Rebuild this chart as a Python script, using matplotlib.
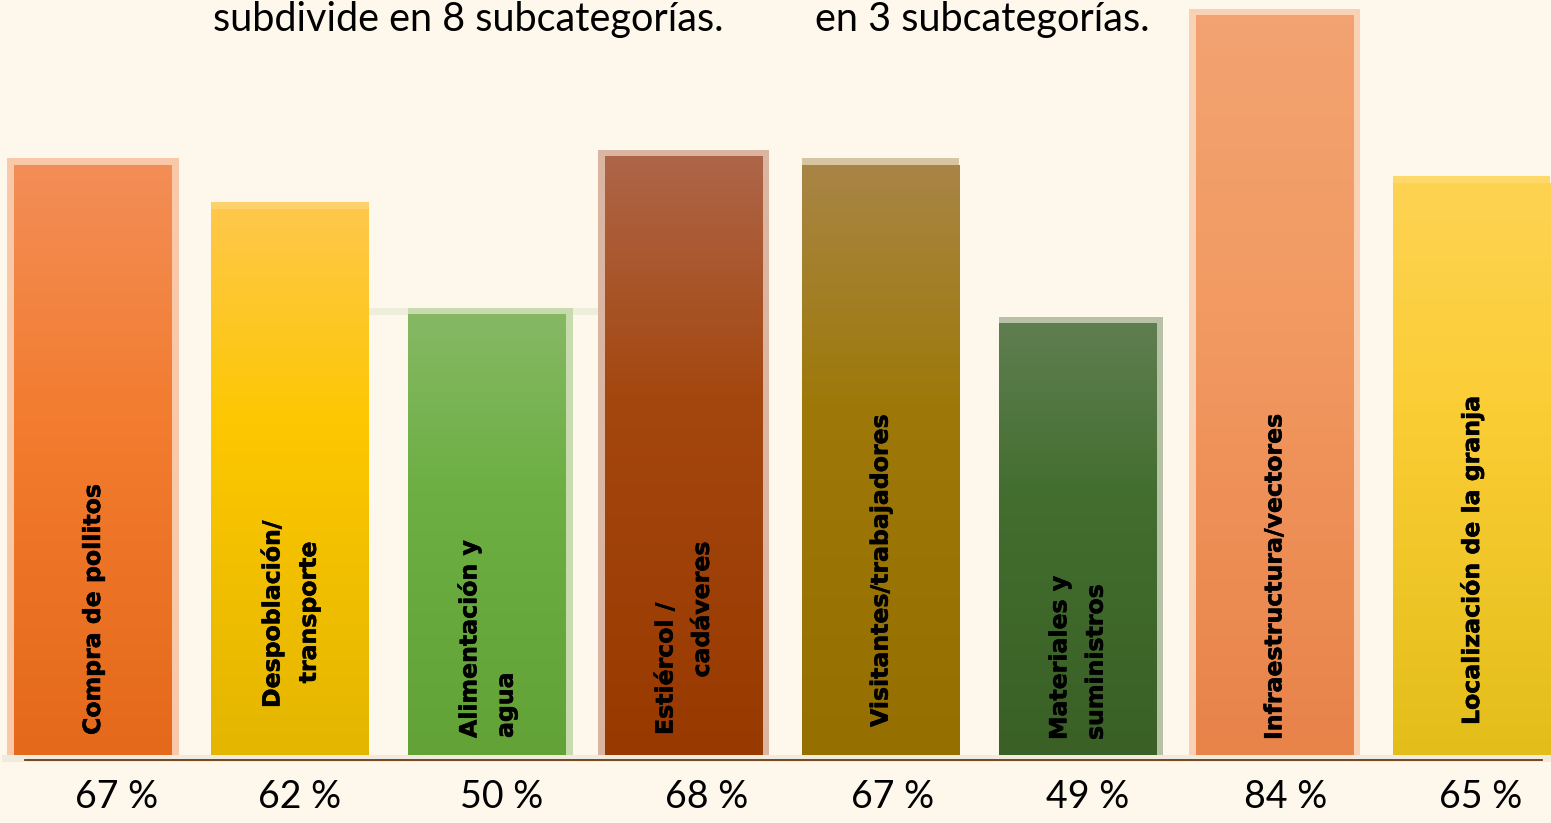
import numpy as np
import matplotlib
matplotlib.use("Agg")
import matplotlib.pyplot as plt
import matplotlib.patheffects as pe
from matplotlib.colors import to_rgb
from matplotlib.patches import Rectangle

# --- data ---
categories = [
    "Compra de pollitos",
    "Despoblación/\n   transporte",
    "Alimentación y\nagua",
    "Estiércol /\n       cadáveres",
    "Visitantes/trabajadores",
    "Materiales y\nsuministros",
    "Infraestructura/vectores",
    "Localización de la granja",
]
percentages = [67, 62, 50, 68, 67, 49, 84, 65]
pct_labels = [f"{p} %" for p in percentages]
header_left = "subdivide en 8 subcategorías."
header_right = "en 3 subcategorías."

# --- style ---
top_colors = ["#F28E57", "#FFC84A", "#86B864", "#AE6548", "#A88545", "#5F7E50", "#F3A371", "#FED352"]
mid_colors = ["#F37D31", "#FDC700", "#6DAF43", "#A4470F", "#9E790A", "#436E30", "#F29A62", "#FBCD35"]
bot_colors = ["#E5691A", "#E4B600", "#62A236", "#983A00", "#957000", "#3A6025", "#E8834A", "#E3BE1A"]
halo_sides = ["both", "top", "right", "both", "top", "right", "both", "top"]
halo_mix = [0.45, 0.8, 0.45, 0.45, 0.45, 0.45, 0.45, 0.85]
label_bottom_px = [735, 708, 738, 735, 727, 740, 740, 725]
pct_shift_px = [24, 10, 15, 23, 12, 10, 11, 9]

BG = "#FEF7EC"
W_PX, H_PX = 1551, 823
BASE_PX = 755        # pixel row of the 0 % line
PX_PER_PCT = 8.8
X0_PX, STEP_PX = 93, 196.9
BAR_W = 0.8
HALO_PX = 7


def px_to_val(py):
    return (BASE_PX - py) / PX_PER_PCT


def blend(c, mix):
    c = np.array(to_rgb(c))
    bg = np.array(to_rgb(BG))
    return tuple(mix * c + (1 - mix) * bg)


def gradient(top, mid, bot, n=200):
    stops = np.array([to_rgb(top), to_rgb(mid), to_rgb(bot)])
    pos = np.array([0.0, 0.4, 1.0])
    t = np.linspace(0, 1, n)
    img = np.stack([np.interp(t, pos, stops[:, k]) for k in range(3)], axis=-1)
    return img[:, None, :]


fig = plt.figure(figsize=(W_PX / 100, H_PX / 100), dpi=100, facecolor=BG)
ax = fig.add_axes([0, 0, 1, 1])
ax.set_facecolor(BG)

x = np.arange(len(categories))
bars = ax.bar(x, percentages, width=BAR_W, color="none", zorder=2)

hx = HALO_PX / STEP_PX
hy = HALO_PX / PX_PER_PCT
for i, patch in enumerate(bars):
    x0, w, h = patch.get_x(), patch.get_width(), patch.get_height()

    # soft lighter rim like the original picture
    left = x0 - hx if halo_sides[i] == "both" else x0
    right = x0 + w + hx if halo_sides[i] in ("both", "right") else x0 + w
    ax.add_patch(Rectangle((left, 0), right - left, h + hy,
                           color=blend(top_colors[i], halo_mix[i]), lw=0, zorder=1))

    ax.imshow(gradient(top_colors[i], mid_colors[i], bot_colors[i]),
              extent=[x0, x0 + w, 0, h], aspect="auto", origin="upper",
              interpolation="bilinear", zorder=2)

# faint strip continuing the top of the third bar
b2, b3, b4 = bars[1], bars[2], bars[3]
ax.add_patch(Rectangle((b2.get_x() + b2.get_width(), b3.get_height()),
                       b4.get_x() - hx - b2.get_x() - b2.get_width(), hy,
                       color="#EFEEDC", lw=0, zorder=0.5))

# base band and axis line
ax.axhspan(px_to_val(762), 0, xmin=0.001, color="#F0EADF", lw=0, zorder=0.8)
ax.axhline(px_to_val(760), xmin=25 / W_PX, xmax=1542 / W_PX, color="#6B3A10", lw=1.3, zorder=3)

# category names inside bars
for i, name in enumerate(categories):
    ax.text(x[i], px_to_val(label_bottom_px[i]), name, rotation=90, ha="center", va="bottom",
            multialignment="left", linespacing=1.65, fontsize=17, fontweight="bold",
            family="DejaVu Sans", color="black", zorder=4,
            path_effects=[pe.withStroke(linewidth=0.4, foreground="black")])

# percentage labels under the axis
for i, lab in enumerate(pct_labels):
    ax.text(x[i] + pct_shift_px[i] / STEP_PX, px_to_val(808), lab, ha="center", va="baseline",
            fontsize=27, family="Lato", color="black")

# header text cut by the top edge
fig.text(213 / W_PX, 1 - 31 / H_PX, header_left, ha="left", va="baseline",
         fontsize=28.5, family="Lato", color="black")
fig.text(815 / W_PX, 1 - 31 / H_PX, header_right, ha="left", va="baseline",
         fontsize=28.5, family="Lato", color="black")

ax.set_xlim(-X0_PX / STEP_PX, (W_PX - X0_PX) / STEP_PX)
ax.set_ylim(px_to_val(H_PX), px_to_val(0))
ax.axis("off")

fig.savefig("out.png", dpi=100, facecolor=BG)
